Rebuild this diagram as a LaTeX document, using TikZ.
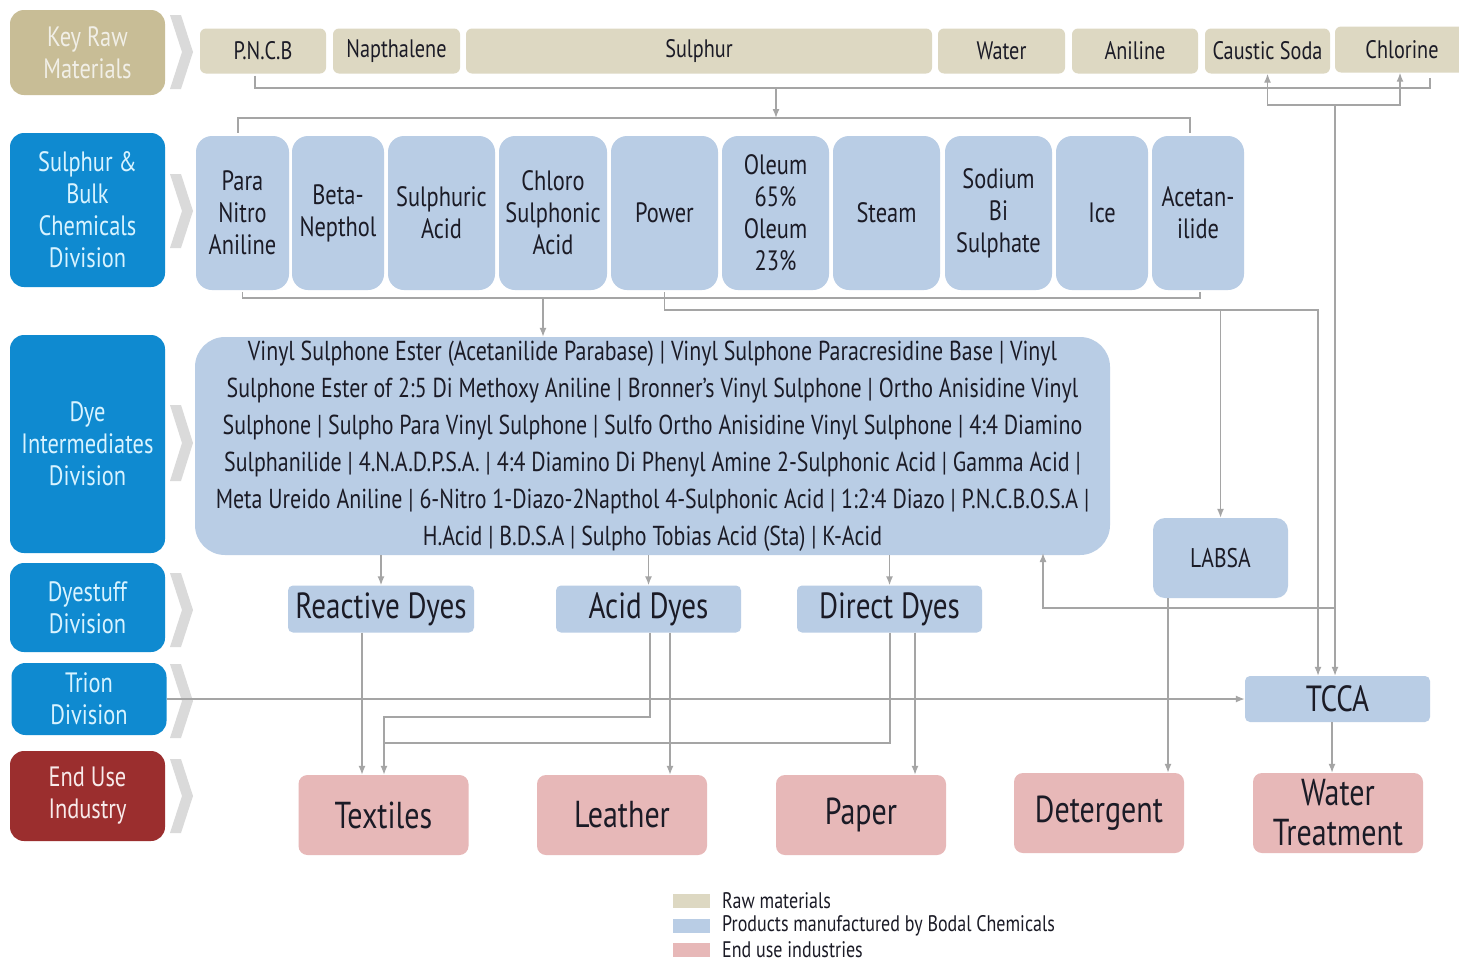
\documentclass[tikz,border=0pt]{standalone}
\usepackage{fontspec}
\setmainfont{PT Sans}[FakeStretch=0.8]
\usetikzlibrary{arrows.meta}
\definecolor{rawc}{HTML}{DDD8C2}
\definecolor{prodc}{HTML}{B9CDE5}
\definecolor{endc}{HTML}{E7B8B8}
\definecolor{tanc}{HTML}{C8BD96}
\definecolor{divc}{HTML}{0F8AD0}
\definecolor{redc}{HTML}{9B2E2E}
\definecolor{linec}{HTML}{A5A5A5}
\definecolor{chevc}{HTML}{DADADA}
\definecolor{txtc}{HTML}{1B1B26}
\definecolor{divtxt}{HTML}{D8F3FF}
\tikzset{
  basebox/.style={inner sep=0pt, align=center, text=txtc},
  divbox/.style={basebox, rounded corners=14pt, minimum width=155pt, font=\fontsize{28}{32}\selectfont},
  rawbox/.style={basebox, fill=rawc, rounded corners=6pt, minimum height=45pt, font=\fontsize{25.3}{28}\selectfont},
  bulkbox/.style={basebox, fill=prodc, rounded corners=16pt, minimum height=154pt, font=\fontsize{28}{32}\selectfont},
  dyebox/.style={basebox, fill=prodc, rounded corners=5pt, minimum width=185pt, minimum height=47pt, font=\fontsize{36.4}{40}\selectfont},
  usebox/.style={basebox, fill=endc, rounded corners=9pt, minimum width=170pt, minimum height=80pt, font=\fontsize{37.5}{40}\selectfont},
  link/.style={draw=linec, line width=1.4pt},
  arr/.style={link, -{Latex[length=9pt,width=7pt]}},
  legtxt/.style={anchor=west, inner sep=0pt, text=txtc, font=\fontsize{22.5}{25}\selectfont},
}
\begin{document}
\begin{tikzpicture}[x=1pt,y=-1pt]
  \useasboundingbox (0,0) rectangle (1459,964);
  \fill[white] (0,0) rectangle (1459,964);
  % chevrons
  \foreach \ym/\h in {52/37, 211/37, 443/38, 610/37, 701/37, 796/37}
    \fill[chevc] (170,\ym-\h) -- (181,\ym-\h) -- (193,\ym) -- (181,\ym+\h) -- (170,\ym+\h) -- (182,\ym) -- cycle;
  % divisions
  \node[divbox, fill=tanc, text=rawc!40!white, minimum height=85pt] (keyraw) at (87.5,52.5) {Key Raw\\Materials};
  \node[divbox, fill=divc, text=divtxt, minimum height=154pt] (bulkdiv) at (87.5,210) {Sulphur \&\\Bulk\\Chemicals\\Division};
  \node[divbox, fill=divc, text=divtxt, minimum height=218pt] (dyediv) at (87.5,444) {Dye\\Intermediates\\Division};
  \node[divbox, fill=divc, text=divtxt, minimum height=89pt] (stuffdiv) at (87.5,607.5) {Dyestuff\\Division};
  \node[divbox, fill=divc, text=divtxt, minimum height=72pt] (trion) at (89,699) {Trion\\Division};
  \node[divbox, fill=redc, text=endc!30!white, minimum height=90pt] (usediv) at (87.5,796) {End Use\\Industry};
  % raw materials
  \foreach \nm/\cx/\w/\lab in {pncb/263/126/P.N.C.B, napth/396.5/127/Napthalene, sulphur/699/466/Sulphur,
      water/1001.5/127/Water, aniline/1135/126/Aniline, caustic/1267.5/125/Caustic Soda}
    \node[rawbox, minimum width=\w pt] (\nm) at (\cx,51) {\lab};
  \node[rawbox, minimum width=134pt, minimum height=46pt] (chlorine) at (1402,49.5) {Chlorine};
  % sulphur and bulk chemicals
  \foreach \nm/\cx/\w/\lab in {pna/242.5/93/{Para\\Nitro\\Aniline}, beta/338/92/{Beta-\\Nepthol},
      sacid/441.5/107/{Sulphuric\\Acid}, chloro/553/108/{Chloro\\Sulphonic\\Acid}, power/664.5/107/Power,
      oleum/775.5/107/{Oleum\\65\%\\Oleum\\23\%}, steam/886.5/107/Steam, sodium/998.5/107/{Sodium\\Bi\\Sulphate},
      ice/1102/92/Ice, acet/1198/92/{Acetan-\\ilide}}
    \node[bulkbox, minimum width=\w pt] (\nm) at (\cx,213) {\lab};
  % dye intermediates
  \node[basebox, fill=prodc, rounded corners=30pt, minimum width=915pt, minimum height=218pt,
      font=\fontsize{27.4}{37}\selectfont] (dye) at (652.5,446)
    {Vinyl Sulphone Ester (Acetanilide Parabase) | Vinyl Sulphone Paracresidine Base | Vinyl\\
     Sulphone Ester of 2:5 Di Methoxy Aniline | Bronner’s Vinyl Sulphone | Ortho Anisidine Vinyl\\
     Sulphone | Sulpho Para Vinyl Sulphone | Sulfo Ortho Anisidine Vinyl Sulphone | 4:4 Diamino\\
     Sulphanilide | 4.N.A.D.P.S.A. | 4:4 Diamino Di Phenyl Amine 2-Sulphonic Acid | Gamma Acid |\\
     Meta Ureido Aniline | 6-Nitro 1-Diazo-2Napthol 4-Sulphonic Acid | 1:2:4 Diazo | P.N.C.B.O.S.A |\\
     H.Acid | B.D.S.A | Sulpho Tobias Acid (Sta) | K-Acid};
  % dyestuff, labsa, tcca
  \node[dyebox, minimum width=186pt] (reactive) at (381,609) {Reactive Dyes};
  \node[dyebox] (acid) at (648.5,609) {Acid Dyes};
  \node[dyebox] (direct) at (889.5,609) {Direct Dyes};
  \node[basebox, fill=prodc, rounded corners=12pt, minimum width=135pt, minimum height=80pt,
      font=\fontsize{27}{30}\selectfont] (labsa) at (1220.5,558) {LABSA};
  \node[dyebox, minimum height=46pt] (tcca) at (1337.5,699) {TCCA};
  % end use
  \node[usebox] (textiles) at (383.5,815) {Textiles};
  \node[usebox] (leather) at (622,815) {Leather};
  \node[usebox] (paper) at (861,815) {Paper};
  \node[usebox] (detergent) at (1099,813) {Detergent};
  \node[usebox] (water2) at (1338,813) {Water\\Treatment};
  % junctions
  \coordinate (rawbar) at (776,88);
  \coordinate (bulktop) at (776,118);
  \coordinate (bulkbar) at (543,298);
  \coordinate (pwrbar) at (1318,310);
  \coordinate (clbar) at (1335,105);
  \coordinate (retbar) at (1335,608);
  \coordinate (dyeret) at (1043,553);
  \coordinate (acidtx) at (384,717);
  \coordinate (directtx) at (384,743);
  % raw materials to bulk
  \draw[link] ([xshift=-8pt,yshift=-2pt]pncb.south) |- (rawbar) -| ([xshift=28pt,yshift=-5pt]chlorine.south);
  \draw[arr] (rawbar) -- (bulktop);
  \draw[link] ([xshift=-4.5pt,yshift=3pt]pna.north) |- (bulktop) -| ([xshift=-8pt,yshift=3pt]acet.north);
  % bulk to dye intermediates
  \draw[link] ([yshift=-2pt]pna.south) |- (bulkbar) -| ([xshift=2pt,yshift=-2pt]acet.south);
  \draw[arr] (bulkbar) -- (bulkbar |- dye.north);
  % power line to labsa and tcca
  \draw[arr] ([yshift=-2pt]power.south) |- (pwrbar) -- (pwrbar |- tcca.north);
  \draw[arr] (labsa.north |- pwrbar) -- (labsa.north);
  % caustic soda and chlorine
  \draw[arr] (clbar) -| (caustic.south);
  \draw[arr] (clbar) -| ([xshift=-2pt]chlorine.south);
  \draw[arr] (clbar) -- (clbar |- tcca.north);
  \draw[arr] (retbar) -| (dyeret);
  % dyestuff
  \draw[arr] (dye.south -| reactive.north) -- (reactive.north);
  \draw[arr] (dye.south -| acid.north) -- (acid.north);
  \draw[arr] (dye.south -| direct.north) -- (direct.north);
  \draw[arr] ([xshift=-19pt]reactive.south) -- ([xshift=-19pt]reactive.south |- textiles.north);
  \draw[arr] ([xshift=1.5pt]acid.south) |- (acidtx) -- (acidtx |- textiles.north);
  \draw[link] ([xshift=0.5pt]direct.south) |- (directtx);
  \draw[arr] ([xshift=21.5pt]acid.south) -- ([xshift=21.5pt]acid.south |- leather.north);
  \draw[arr] ([xshift=25.5pt]direct.south) -- ([xshift=25.5pt]direct.south |- paper.north);
  \draw[arr] ([xshift=-52.5pt]labsa.south) -- ([xshift=-52.5pt]labsa.south |- detergent.north);
  % trion
  \draw[arr] (trion.east) -- (tcca.west);
  \draw[arr] ([xshift=-5.5pt]tcca.south) -- ([xshift=-5.5pt]tcca.south |- water2.north);
  % legend
  \foreach \nm/\yy/\col/\lab in {legraw/901/rawc/Raw materials, legprod/926/prodc/Products manufactured by Bodal Chemicals,
      leguse/950/endc/End use industries} {
    \fill[\col] (673,\yy-7) rectangle (710,\yy+7);
    \node[legtxt] (\nm) at (722,\yy) {\lab};
  }
\end{tikzpicture}
\end{document}
